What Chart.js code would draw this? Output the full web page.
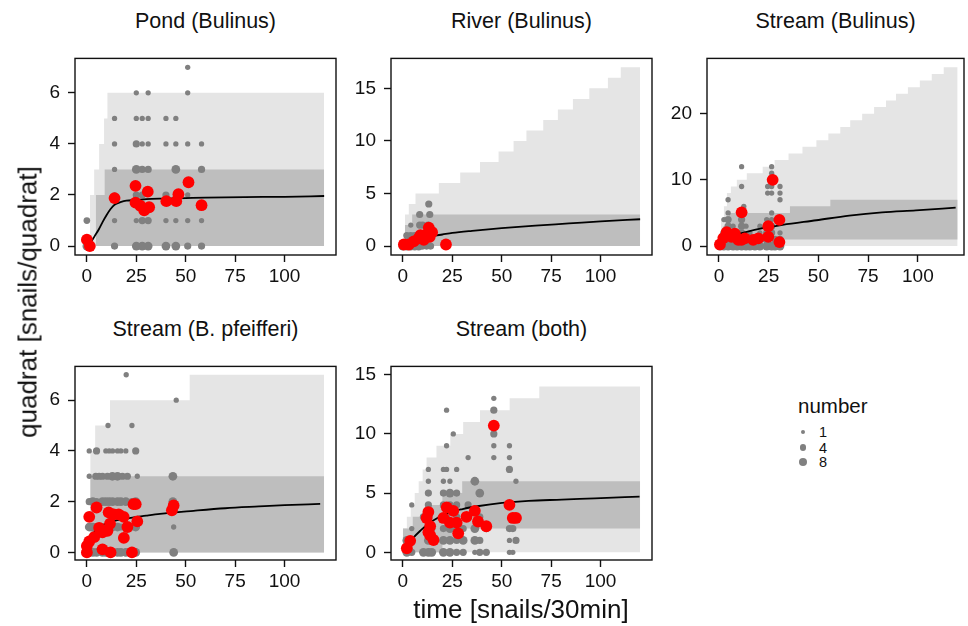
<!DOCTYPE html>
<html>
<head>
<meta charset="utf-8">
<script src="https://cdn.jsdelivr.net/npm/chart.js@4.4.0/dist/chart.umd.min.js"></script>
<style>
  body { margin: 0; background: #fff; width: 968px; height: 626px; position: relative; overflow: hidden;
         font-family: "Liberation Sans", Arial, Helvetica, sans-serif; color: #111; }
  canvas { position: absolute; }
  .txt { position: absolute; white-space: nowrap; transform: translate(-50%, -50%); }
  .strip { font-size: 21.5px; }
  .axtitle { font-size: 26px; }
  .ytitle { transform: translate(-50%, -50%) rotate(-90deg); }
  .legtitle { position: absolute; left: 798px; top: 394px; font-size: 20.5px; }
  .legdot { position: absolute; border-radius: 50%; background: #808080; }
  .leglab { position: absolute; left: 819px; font-size: 14.5px; transform: translateY(-50%); }
</style>
</head>
<body>
<script>
// shared axis ticks
const xTicks = [0, 25, 50, 75, 100];
const legendCounts = [1, 4, 8];

// bands: [x, lower, upper] as steps ; fits: [x, y] ; grey: [x, y, count] ; red: [x, y]

// Pond (Bulinus)
const pondLight = [[1.5,0,1],[3.7,0,2],[6.2,0,3],[8.7,0,4],[10.4,0,5],[15.7,0,6],[120,0,6]];
const pondDark = [[4.5,0,1],[9,0,2],[13.4,0,3],[120,0,3]];
const pondFit = [[0,0.05],[2,0.15],[4,0.4],[6,0.65],[8,0.95],[10,1.22],[12,1.45],[14,1.62],[17,1.72],[20,1.78],[25,1.8],[30,1.84],[40,1.86],[50,1.88],[60,1.9],[80,1.92],[100,1.93],[120,1.96]];
const pondGrey = [[0,0,8],[0,1,3],
  [14,0,4],[14,1,1],[14,2,1],[14,3,1],[14,4,1],[14,5,1],
  [25,0,8],[25,1,1],[25,2,4],[25,3,8],[25,4,4],[25,5,1],[25,6,1],
  [28,0,8],[28,1,4],[28,2,4],[28,3,4],[28,4,1],[28,5,1],
  [31,0,8],[31,1,4],[31,3,4],[31,4,1],[31,5,1],[31,6,1],
  [40,0,8],[40,1,1],[40,2,4],[40,4,1],[40,5,1],
  [45,0,8],[45,1,1],[45,2,1],[45,3,8],[45,4,1],[45,5,1],
  [51,0,4],[51,1,1],[51,2,1],[51,4,1],[51,6,1],[51,7,1],
  [58,0,4],[58,1,1],[58,3,4],[58,4,1]];
const pondRed = [[0,0.25],[1.5,0],[14,1.88],[24.6,2.36],[30.8,2.13],[24.6,1.7],[27,1.58],[29,1.4],[31.5,1.52],[40.2,1.76],[45.2,1.76],[46.3,2.03],[51.4,2.5],[58,1.6]];

// River (Bulinus)
const riverLight = [[1,0,1],[3,0,3],[6.4,0,4],[18.2,0,5],[29,0,6],[39,0,7],[48.4,0,8],[56,0,9],[62.5,0,10],[71,0,11],[78.4,0,12],[86,0,13],[94.3,0,14],[103.7,0,15],[110.2,0,16],[115.3,0,17],[120,0,17]];
const riverDark = [[1,0,1],[4.7,0,2],[43.4,0,3],[120,0,3]];
const riverFit = [[0,0.05],[3,0.3],[6,0.55],[10,0.75],[15,0.95],[20,1.1],[25,1.25],[35,1.45],[50,1.7],[67,1.95],[84,2.15],[100,2.35],[120,2.55]];
const riverGrey = [[0,0,8],[2,0,8],[4,0,8],[6,0,8],[8,0,8],[10,0,4],[12,0,4],[14,0,4],
  [2,1,4],[4,1,4],[6,1,4],[8,1,8],[10,1,4],[12,1,4],[14,1,1],
  [4,2,1],[8.5,2,4],[10,2,4],[12.7,2,4],
  [8.5,3,4],[13.6,3,4],[13.1,4,4]];
const riverRed = [[0.5,0.15],[3,0.15],[5.5,0.44],[8,0.74],[8.9,1.03],[10.6,0.59],[11.4,1.03],[13.1,1.76],[14.8,1.32],[13.6,0.88],[21.8,0.15]];

// Stream (Bulinus)
const streamLight = [[1,0,2],[2.5,0,4],[4,0,6],[6,0,8],[9,0,9],[14,0,10],[22,0,11],[28,0,12],[35,0,13],[42,0,14],[49,0,15],[55,0,16],[61,0,17],[66,0,18],[72,0,19],[78,0,20],[84,0,21],[89,0,22],[95,0,23],[101,0,24],[107,0,25],[113,0,26],[118,0,27],[120,0,27]];
const streamDark = [[0.5,0,1],[2,0,2],[5,0,3],[35.7,1,5],[56,1,6],[80,1,7],[120,1,7]];
const streamFit = [[0,0.2],[2.5,0.9],[5.5,1.4],[12,2.0],[22,2.7],[32,3.2],[49,3.9],[65.5,4.6],[82,5.1],[99,5.4],[119,5.8]];
const streamGrey = [[0.5,0,8],[2.5,0,8],[4.6,0,8],[7.1,0,8],[9.1,0,8],[11.4,0,8],[13.6,0,8],[15.6,0,8],[18.1,0,8],[20.6,0,8],[24,0,8],[26.5,0,8],[28.2,0,8],[30.7,0,8],
  [2.5,1,8],[4.6,1,8],[7.1,1,4],[9.1,1,4],[11.4,1,8],[15.6,1,4],[18.1,1,4],[20.6,1,4],[24,1,8],[28.2,1,4],[30.7,1,4],
  [2.5,2,4],[4.6,2,8],[7.1,2,4],[11.4,2,4],[15.6,2,1],[20.6,2,1],[24,2,4],[26.5,2,4],[30.7,2,1],
  [4.6,3,4],[7.1,3,1],[11.4,3,4],[13.6,3,1],[20.6,3,1],[24,3,1],[26.5,3,4],
  [2.5,4,1],[4.6,4,4],[11.4,4,4],[24,4,1],[26.5,4,1],
  [4.6,5,1],[11.4,5,1],[26.5,5,1],[12.5,6,1],[4.6,7,1],[30.7,7,1],
  [24.5,8,1],[26.5,8,1],[30.7,8,1],[11.4,9,1],[24.5,9,1],[26.5,9,1],[30.7,9,1],
  [26.5,10,1],[26.5,11,1],[11.4,12,1],[26.5,12,1]];
const streamRed = [[0.5,0.24],[2.2,1.2],[3.9,2.1],[8,1.86],[11.4,5.1],[11.4,0.93],[13,1.16],[17.2,0.93],[19.8,1.16],[24.8,3.0],[24.8,1.4],[27,10],[30.4,3.95],[30.4,0.6],[6.3,1.4],[9.7,0.93]];

// Stream (B. pfeifferi)
const pfeifLight = [[1.7,0,3],[4.2,0,4],[11.7,0,5],[52,0,6],[110.9,0,7],[120,0,7]];
const pfeifDark = [[1.7,0,2],[40,0,3],[120,0,3]];
const pfeifFit = [[0,0.12],[2,0.5],[3.7,0.79],[6,0.97],[8.7,1.1],[12,1.2],[20,1.34],[30,1.45],[37,1.52],[54,1.64],[70,1.74],[87,1.81],[100,1.86],[118,1.91]];
const pfeifGrey = [[0,0,8],[1.2,0,8],[3,0,8],[4.9,0,8],[7.9,0,8],[9.6,0,8],[11.3,0,8],[13,0,4],[15.5,0,8],[17.2,0,8],[19.7,0,8],[22.8,0,8],[24.7,0,8],[43.9,0,8],
  [1.2,1,8],[3,1,8],[4.9,1,4],[7.9,1,4],[9.6,1,8],[11.3,1,4],[13,1,8],[15.5,1,8],[17.2,1,4],[19.7,1,8],[22.8,1,4],[24.7,1,8],[43.9,1,1],
  [1.2,2,4],[3,2,8],[4.9,2,4],[7.9,2,8],[9.6,2,8],[11.3,2,8],[13,2,8],[15.5,2,8],[17.2,2,8],[19.7,2,8],[22.8,2,4],[24.7,2,8],[43.5,2,8],
  [1.2,3,1],[4.5,3,4],[6.2,3,4],[7.9,3,4],[10.4,3,4],[12.9,3,8],[15.5,3,8],[18,3,4],[20.5,3,4],[25.5,3,1],[43.5,3,8],
  [1.2,4,1],[4.9,4,4],[9.6,4,1],[11.3,4,1],[13,4,1],[15.5,4,1],[17.2,4,1],[19.7,4,1],[24.7,4,4],
  [10.7,5,1],[22.8,5,1],[45.2,6,1],[19.9,7,1]];
const pfeifRed = [[0,0],[1.2,1.4],[4.9,1.77],[11,1.58],[13.6,1.5],[16.1,1.5],[18.6,1.4],[23.6,1.9],[24.7,1.9],[3.7,0.6],[6.2,0.97],[7.9,0.79],[10.4,0.85],[11.7,1.13],[20.5,1.0],[25.5,1.22],[18.7,0.57],[7.9,0.12],[12,0],[22.8,0],[1.2,0.43],[0,0.25],[43.9,1.85],[43,1.66]];

// Stream (both)
const bothLight = [[0,0,1],[2,0,2],[4,0,3],[6,0,4],[8,0,5],[10,0,6],[12,0,7],[17,0,8],[24,0,9],[30.5,0,10],[39,0,11],[54,0,12],[69,0,13],[101,0,14],[120,0,14]];
const bothDark = [[0,0,1],[5,0,2],[12,0,3],[20,0,4],[30,1,5],[50,2,6],[120,2,6]];
const bothFit = [[0,0.13],[2.5,0.6],[5,1.17],[9,1.85],[13.4,2.48],[17.5,2.9],[21.8,3.26],[30.2,3.65],[38.5,3.91],[50.2,4.17],[63.6,4.35],[80.4,4.45],[97.1,4.56],[119.7,4.7]];
const bothGrey = [[2,0,8],[4.5,0,4],[10.4,0,8],[12.9,0,8],[14.6,0,8],[20.5,0,8],[23.8,0,8],[27.2,0,4],[30.5,0,4],[36.4,0,1],[38.9,0,4],[42.2,0,4],[53.9,0,1],[55.6,0,1],
  [2,1,8],[4.5,1,4],[12.9,1,8],[14.6,1,4],[20.5,1,8],[23.8,1,8],[27.2,1,4],[30.5,1,8],[36.4,1,8],[38.9,1,4],[53.9,1,1],[57.2,1,4],
  [4.5,2,1],[12.9,2,8],[14.6,2,4],[20.5,2,4],[23.8,2,8],[27.2,2,8],[30.5,2,4],[36.4,2,8],[42.2,2,4],[53.9,2,4],[55.6,2,4],
  [10.4,3,4],[12.9,3,8],[22.1,3,4],[27.2,3,4],[33,3,4],[38.9,3,4],
  [4.5,4,1],[12.9,4,4],[20.5,4,4],[23.8,4,4],[27.2,4,4],[33,4,4],
  [12.9,5,4],[20.5,5,4],[23.8,5,8],[27.2,5,4],[38.9,5,8],
  [12.9,6,1],[20.5,6,1],[23.8,6,1],[36.4,6,8],[57.2,6,1],
  [12.9,7,1],[20.5,7,1],[22.1,7,1],[27.2,7,1],[53.9,7,4],
  [33,8,1],[46,8,1],[53.9,8,1],[22.1,9,1],[46,9,1],[53.9,9,1],
  [25.5,10,1],[46,10,4],[22.1,12,1],[46,12,4],[46,13,1]];
const bothRed = [[2,0.34],[3.7,0.97],[12.9,3.4],[12,2.9],[13.8,2.2],[12.9,1.7],[13.8,1.44],[15.5,1.04],[20.5,2.9],[22.2,3.8],[25.5,3.5],[23.8,2.5],[27.2,2.5],[28,1.6],[32.2,3.0],[36.4,3.5],[38,2.6],[42.2,2.2],[46,10.7],[53.9,4.0],[55.6,2.9],[57.2,2.9]];

// panel layout (box in page pixels)
const panels = [
  { title: "Pond (Bulinus)", box: [75, 43, 336, 255], xMax: 126, yMin: -0.35, yMax: 7.35, yTicks: [0,2,4,6],
    light: pondLight, dark: pondDark, fit: pondFit, grey: pondGrey, red: pondRed },
  { title: "River (Bulinus)", box: [391, 43, 652, 255], xMax: 126, yMin: -0.85, yMax: 17.85, yTicks: [0,5,10,15],
    light: riverLight, dark: riverDark, fit: riverFit, grey: riverGrey, red: riverRed },
  { title: "Stream (Bulinus)", box: [707, 43, 964, 255], xMax: 123.2, yMin: -1.35, yMax: 28.35, yTicks: [0,10,20],
    light: streamLight, dark: streamDark, fit: streamFit, grey: streamGrey, red: streamRed },
  { title: "Stream (B. pfeifferi)", box: [75, 351, 336, 560], xMax: 126, yMin: -0.3, yMax: 7.33, yTicks: [0,2,4,6],
    light: pfeifLight, dark: pfeifDark, fit: pfeifFit, grey: pfeifGrey, red: pfeifRed },
  { title: "Stream (both)", box: [391, 351, 652, 560], xMax: 126, yMin: -0.65, yMax: 15.7, yTicks: [0,5,10,15],
    light: bothLight, dark: bothDark, fit: bothFit, grey: bothGrey, red: bothRed }
];

const pointSize = n => 1.7 + 0.95 * Math.sqrt(n);
const tickFont = { family: "'Liberation Sans', Arial, sans-serif", size: 19 };
const Y_W = 50, X_H = 34, PAD = 4;

// box around the plotting area
const boxPlugin = {
  id: "box",
  afterDatasetsDraw(chart) {
    const a = chart.chartArea, c = chart.ctx;
    c.save();
    c.strokeStyle = "#111";
    c.lineWidth = 1.4;
    c.strokeRect(a.left, a.top, a.right - a.left, a.bottom - a.top);
    c.restore();
  }
};

function addText(cls, text, x, y) {
  const d = document.createElement("div");
  d.className = "txt " + cls;
  d.textContent = text;
  d.style.left = x + "px";
  d.style.top = y + "px";
  document.body.appendChild(d);
}

function bandSets(rows, color, order) {
  return [
    { type: "line", data: rows.map(r => ({ x: r[0], y: r[2] })), stepped: "after", fill: "+1",
      backgroundColor: color, borderColor: "transparent", borderWidth: 0, pointRadius: 0, order },
    { type: "line", data: rows.map(r => ({ x: r[0], y: r[1] })), stepped: "after", fill: false,
      borderColor: "transparent", borderWidth: 0, pointRadius: 0, order }
  ];
}

function drawPanel(p) {
  const [l, t, r, b] = p.box;
  const cv = document.createElement("canvas");
  cv.width = Y_W + (r - l) + PAD;
  cv.height = PAD + (b - t) + X_H;
  cv.style.left = (l - Y_W) + "px";
  cv.style.top = (t - PAD) + "px";
  document.body.appendChild(cv);

  const axisGrid = { drawOnChartArea: false, drawTicks: true, tickLength: 7, tickColor: "#111", tickWidth: 1.4, color: "#111" };

  new Chart(cv.getContext("2d"), {
    type: "scatter",
    data: {
      datasets: [
        ...bandSets(p.light, "#e5e5e5", 6),
        ...bandSets(p.dark, "#bebebe", 5),
        { type: "scatter", data: p.grey.map(g => ({ x: g[0], y: g[1], n: g[2] })),
          backgroundColor: "#808080", borderWidth: 0,
          pointRadius: ctx => pointSize(ctx.raw ? ctx.raw.n : 1), order: 4 },
        { type: "line", data: p.fit.map(f => ({ x: f[0], y: f[1] })), borderColor: "#000", borderWidth: 1.8,
          pointRadius: 0, fill: false, cubicInterpolationMode: "monotone", order: 3 },
        { type: "scatter", data: p.red.map(d => ({ x: d[0], y: d[1] })), backgroundColor: "#ff0000",
          borderWidth: 0, pointRadius: 5.9, order: 2 }
      ]
    },
    options: {
      responsive: false,
      animation: false,
      events: [],
      layout: { padding: { top: PAD, right: PAD, left: 0, bottom: 0 }, autoPadding: false },
      plugins: { legend: { display: false }, tooltip: { enabled: false } },
      scales: {
        x: {
          type: "linear", min: -6, max: p.xMax,
          afterBuildTicks: s => { s.ticks = xTicks.map(v => ({ value: v })); },
          afterFit: s => { s.height = X_H; },
          ticks: { font: tickFont, color: "#111", padding: 3, maxRotation: 0, autoSkip: false },
          grid: axisGrid,
          border: { display: false }
        },
        y: {
          type: "linear", min: p.yMin, max: p.yMax,
          afterBuildTicks: s => { s.ticks = p.yTicks.map(v => ({ value: v })); },
          afterFit: s => { s.width = Y_W; },
          ticks: { font: tickFont, color: "#111", padding: 8, autoSkip: false },
          grid: axisGrid,
          border: { display: false }
        }
      }
    },
    plugins: [boxPlugin]
  });

  addText("strip", p.title, (l + r) / 2, t - 22);
}

panels.forEach(drawPanel);

addText("axtitle ytitle", "quadrat [snails/quadrat]", 28, 302);
addText("axtitle", "time [snails/30min]", 521, 609);

// size legend
const lt = document.createElement("div");
lt.className = "legtitle";
lt.textContent = "number";
document.body.appendChild(lt);
const legY = [432, 447.5, 462];
legendCounts.forEach((n, i) => {
  const rad = pointSize(n) - 0.3;
  const dot = document.createElement("div");
  dot.className = "legdot";
  dot.style.width = dot.style.height = (2 * rad) + "px";
  dot.style.left = (803 - rad) + "px";
  dot.style.top = (legY[i] - rad) + "px";
  document.body.appendChild(dot);
  const lab = document.createElement("div");
  lab.className = "leglab";
  lab.textContent = String(n);
  lab.style.top = legY[i] + "px";
  document.body.appendChild(lab);
});
</script>
</body>
</html>
